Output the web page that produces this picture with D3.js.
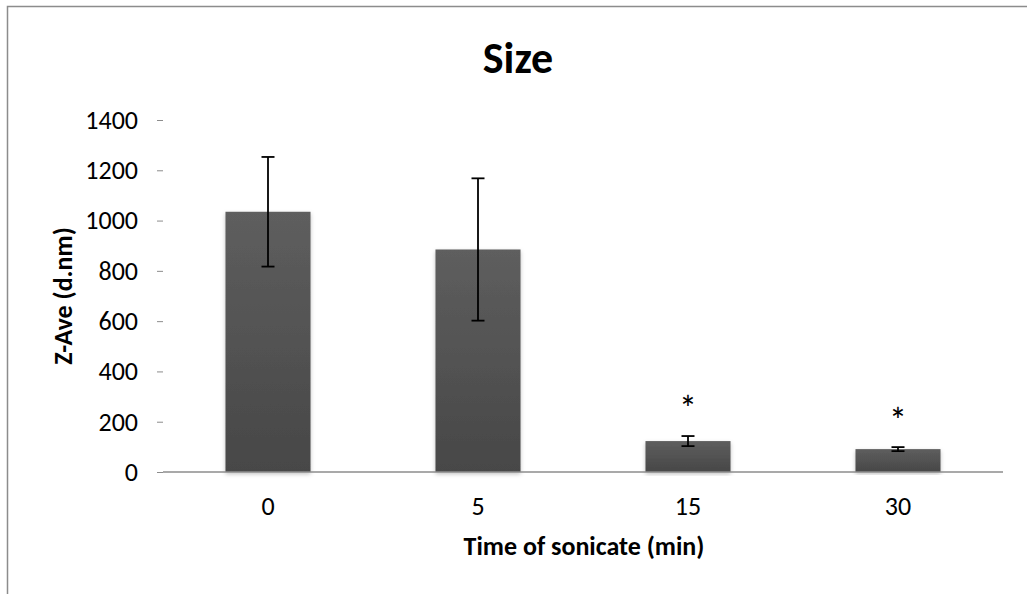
<!DOCTYPE html>
<html>
<head>
<meta charset="utf-8">
<script src="https://cdn.jsdelivr.net/npm/d3@7"></script>
<style>
  body { margin: 0; background: #fff; }
  text { font-family: Carlito, "Open Sans", "Liberation Sans", sans-serif; }
</style>
</head>
<body>
<svg id="chart"></svg>
<script>
// data
var categories = ['0', '5', '15', '30'];
var zave = [1035, 885, 123, 91];
var errors = [218, 283, 20, 8];
var stars = [null, null, 274, 227];   // centre of the "*", in axis units
var yTicks = [0, 200, 400, 600, 800, 1000, 1200, 1400];

var width = 1027,
    height = 594;

var margin = {left: 163, right: 1003, top: 120, bottom: 472};

var svg = d3.select('#chart')
    .attr('width', width)
    .attr('height', height);

// chart frame
svg.append('rect')
  .attr('x', 7.5).attr('y', 6.5)
  .attr('width', width + 10).attr('height', height + 10)
  .attr('fill', 'none')
  .attr('stroke', '#8c8c8c')
  .attr('stroke-width', 1.5);

var x = d3.scaleBand()
    .domain(categories)
    .range([margin.left, margin.right])
    .paddingInner(0.595)
    .paddingOuter(0.2975);

var y = d3.scaleLinear()
    .domain([0, 1400])
    .range([margin.bottom, margin.top]);

var defs = svg.append('defs');
var grad = defs.append('linearGradient')
    .attr('id', 'barFill')
    .attr('x1', 0).attr('y1', 0).attr('x2', 0).attr('y2', 1);
grad.append('stop').attr('offset', '0%').attr('stop-color', '#5e5e5e');
grad.append('stop').attr('offset', '100%').attr('stop-color', '#474747');

var shadow = defs.append('filter').attr('id', 'shadow')
    .attr('x', '-10%').attr('y', '-10%').attr('width', '120%').attr('height', '120%');
shadow.append('feDropShadow')
  .attr('dx', 0).attr('dy', 2).attr('stdDeviation', 2)
  .attr('flood-color', '#000').attr('flood-opacity', 0.25);

// title
svg.append('text')
  .text('Size')
  .attr('x', 518)
  .attr('y', 73)
  .attr('font-size', 44)
  .attr('font-weight', 'bold')
  .attr('fill', '#000')
  .style('text-anchor', 'middle');

// y axis (ticks only, no line)
var yAxis = svg.append('g')
    .attr('transform', 'translate(' + margin.left + ',0)')
    .call(d3.axisLeft(y).tickValues(yTicks).tickFormat(d3.format('d')).tickSize(6).tickPadding(19));
yAxis.select('.domain').remove();
yAxis.selectAll('line').attr('stroke', '#8c8c8c');
yAxis.selectAll('text')
  .attr('font-size', 26)
  .attr('fill', '#000')
  .style('font-family', 'Carlito, "Open Sans", "Liberation Sans", sans-serif');

// bars
svg.append('g').selectAll('rect')
  .data(zave)
  .enter().append('rect')
  .attr('x', function(d, i) { return x(categories[i]); })
  .attr('y', function(d) { return y(d); })
  .attr('width', x.bandwidth())
  .attr('height', function(d) { return y(0) - y(d); })
  .attr('fill', 'url(#barFill)')
  .attr('filter', 'url(#shadow)');

// x axis line
svg.append('line')
  .attr('x1', margin.left).attr('x2', margin.right)
  .attr('y1', y(0)).attr('y2', y(0))
  .attr('stroke', '#8c8c8c')
  .attr('stroke-width', 1.5);

// x tick labels
svg.append('g').selectAll('text')
  .data(categories)
  .enter().append('text')
  .text(function(d) { return d; })
  .attr('x', function(d) { return x(d) + x.bandwidth() / 2; })
  .attr('y', y(0) + 43)
  .attr('font-size', 26)
  .attr('fill', '#000')
  .style('text-anchor', 'middle');

// error bars
var eb = svg.append('g').selectAll('g')
  .data(zave)
  .enter().append('g')
  .attr('transform', function(d, i) { return 'translate(' + (x(categories[i]) + x.bandwidth() / 2) + ',0)'; });
eb.append('line')
  .attr('x1', 0).attr('x2', 0)
  .attr('y1', function(d, i) { return y(d + errors[i]); })
  .attr('y2', function(d, i) { return y(d - errors[i]); })
  .attr('stroke', '#000').attr('stroke-width', 1.8);
eb.append('line')
  .attr('x1', -6.5).attr('x2', 6.5)
  .attr('y1', function(d, i) { return y(d + errors[i]); })
  .attr('y2', function(d, i) { return y(d + errors[i]); })
  .attr('stroke', '#000').attr('stroke-width', 1.8);
eb.append('line')
  .attr('x1', -6.5).attr('x2', 6.5)
  .attr('y1', function(d, i) { return y(d - errors[i]); })
  .attr('y2', function(d, i) { return y(d - errors[i]); })
  .attr('stroke', '#000').attr('stroke-width', 1.8);

// significance marks
svg.append('g').selectAll('text')
  .data(stars)
  .enter().filter(function(d) { return d != null; })
  .append('text')
  .text('*')
  .attr('x', function(d) { return x(categories[stars.indexOf(d)]) + x.bandwidth() / 2; })
  .attr('y', function(d) { return y(d) + 18; })
  .attr('font-size', 36)
  .attr('fill', '#000')
  .style('text-anchor', 'middle');

// axis titles
svg.append('text')
  .text('Time of sonicate (min)')
  .attr('x', 584)
  .attr('y', 555)
  .attr('font-size', 26)
  .attr('font-weight', 'bold')
  .attr('fill', '#000')
  .style('text-anchor', 'middle');

svg.append('text')
  .text('Z-Ave (d.nm)')
  .attr('transform', 'translate(72,296) rotate(-90)')
  .attr('font-size', 26)
  .attr('font-weight', 'bold')
  .attr('fill', '#000')
  .style('text-anchor', 'middle');
</script>
</body>
</html>
